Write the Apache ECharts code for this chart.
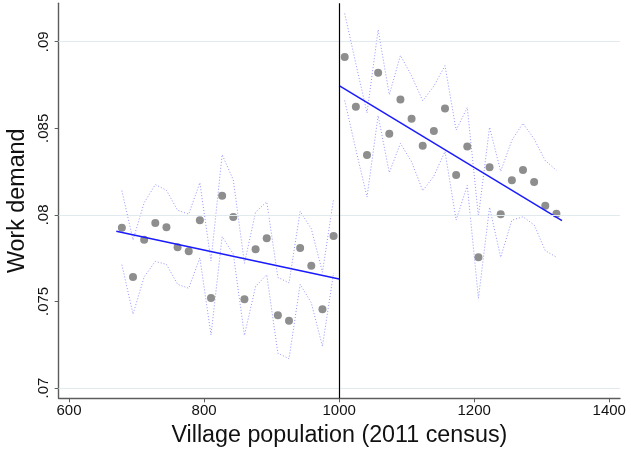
<!DOCTYPE html>
<html>
<head>
<meta charset="utf-8">
<script src="https://cdn.jsdelivr.net/npm/echarts@6/dist/echarts.min.js"></script>
<style>
  html, body { margin: 0; padding: 0; background: #fff; }
  #chart { width: 631px; height: 458px; }
</style>
</head>
<body>
<div id="chart"></div>
<script>
// Binned means of work demand around the 1000-population cutoff
const binXLeft = [678.25, 694.75, 711.25, 727.75, 744.25, 760.75, 777.25, 793.75, 810.25, 826.75,
                  843.25, 859.75, 876.25, 892.75, 909.25, 925.75, 942.25, 958.75, 975.25, 991.75];
const meanLeft = [0.07926, 0.07641, 0.07856, 0.07953, 0.07928, 0.07813, 0.07790, 0.07969, 0.07520, 0.08111,
                  0.07988, 0.07512, 0.07801, 0.07865, 0.07420, 0.07388, 0.07809, 0.07706, 0.07455, 0.07878];
const ciLoLeft = [0.07712, 0.07427, 0.07642, 0.07731, 0.07714, 0.07599, 0.07576, 0.07752, 0.07306, 0.07874,
                  0.07774, 0.07304, 0.07587, 0.07654, 0.07201, 0.07169, 0.07598, 0.07492, 0.07241, 0.07664];
const ciHiLeft = [0.08140, 0.07855, 0.08070, 0.08175, 0.08142, 0.08027, 0.08004, 0.08186, 0.07734, 0.08348,
                  0.08202, 0.07720, 0.08015, 0.08076, 0.07639, 0.07607, 0.08020, 0.07920, 0.07669, 0.08092];

const binXRight = [1008.25, 1024.75, 1041.25, 1057.75, 1074.25, 1090.75, 1107.25, 1123.75, 1140.25, 1156.75,
                   1173.25, 1189.75, 1206.25, 1222.75, 1239.25, 1255.75, 1272.25, 1288.75, 1305.25, 1321.75];
const meanRight = [0.08912, 0.08625, 0.08346, 0.08821, 0.08469, 0.08667, 0.08555, 0.08399, 0.08484, 0.08614,
                   0.08230, 0.08395, 0.07755, 0.08275, 0.08003, 0.08200, 0.08259, 0.08190, 0.08053, 0.08007];
const ciLoRight = [0.08661, 0.08377, 0.08103, 0.08573, 0.08244, 0.08413, 0.08307, 0.08139, 0.08224, 0.08366,
                   0.07970, 0.08170, 0.07518, 0.08044, 0.07755, 0.07969, 0.07989, 0.07942, 0.07793, 0.07756];
const ciHiRight = [0.09163, 0.08873, 0.08589, 0.09069, 0.08694, 0.08921, 0.08803, 0.08659, 0.08744, 0.08862,
                   0.08490, 0.08620, 0.07992, 0.08506, 0.08251, 0.08431, 0.08529, 0.08438, 0.08313, 0.08258];

// Linear fits on each side of the cutoff
const fitLeft = [[670, 0.07905], [1000, 0.07630]];
const fitRight = [[1000, 0.08746], [1330, 0.07967]];

const cutoff = 1000;
const xTicks = [600, 800, 1000, 1200, 1400];
const yTicks = [0.07, 0.075, 0.08, 0.085, 0.09];

const zip = (xs, ys) => xs.map((x, i) => [x, ys[i]]);

const FONT = '"Liberation Sans", Arial, sans-serif';
const ciStyle = { color: '#9494ff', width: 1, type: [1, 2] };

function ciSeries(xs, ys) {
  return {
    type: 'line', data: zip(xs, ys), showSymbol: false, silent: true,
    lineStyle: ciStyle, z: 2
  };
}

const option = {
  animation: false,
  backgroundColor: '#ffffff',
  grid: { left: 58.7, right: 11, top: 3.3, bottom: 59.7, containLabel: false, outerBoundsMode: 'none' },
  xAxis: {
    type: 'value', min: 584.7, max: 1415.9,
    name: 'Village population (2011 census)',
    nameLocation: 'middle', nameGap: 26,
    nameTextStyle: { fontFamily: FONT, fontSize: 23.3, color: '#111' },
    axisLine: { show: true, onZero: false, lineStyle: { color: '#5c5c5c', width: 1.4 } },
    axisTick: { show: true, length: 4, customValues: xTicks, lineStyle: { color: '#5c5c5c', width: 1 } },
    axisLabel: {
      customValues: xTicks, margin: 5, fontFamily: FONT, fontSize: 15, color: '#111',
      formatter: v => String(v)
    },
    splitLine: { show: false }
  },
  yAxis: {
    type: 'value', min: 0.069405, max: 0.09222,
    name: 'Work demand',
    nameLocation: 'middle', nameGap: 27,
    nameTextStyle: { fontFamily: FONT, fontSize: 23.3, color: '#111' },
    axisLine: { show: true, lineStyle: { color: '#5c5c5c', width: 1.4 } },
    axisTick: { show: true, length: 4, customValues: yTicks, lineStyle: { color: '#5c5c5c', width: 1 } },
    axisLabel: {
      customValues: yTicks, rotate: 90, margin: 7, fontFamily: FONT, fontSize: 15, color: '#111',
      formatter: v => String(v).replace(/^0\./, '.')
    },
    splitLine: { show: false }
  },
  series: [
    {
      // horizontal grid lines at the labelled ticks
      type: 'line', data: [], silent: true, z: 1,
      markLine: {
        silent: true, symbol: 'none', label: { show: false }, animation: false,
        lineStyle: { color: '#e1eaee', width: 1, type: 'solid' },
        data: yTicks.map(v => ({ yAxis: v }))
      }
    },
    ciSeries(binXLeft, ciHiLeft),
    ciSeries(binXLeft, ciLoLeft),
    ciSeries(binXRight, ciHiRight),
    ciSeries(binXRight, ciLoRight),
    {
      type: 'scatter', data: zip(binXLeft, meanLeft), symbolSize: 8, z: 3,
      itemStyle: { color: '#8e8e8e', opacity: 1 }
    },
    {
      type: 'scatter', data: zip(binXRight, meanRight), symbolSize: 8, z: 3,
      itemStyle: { color: '#8e8e8e', opacity: 1 }
    },
    {
      type: 'line', data: fitLeft, showSymbol: false, z: 4,
      lineStyle: { color: '#1a1aff', width: 1.5 }
    },
    {
      type: 'line', data: fitRight, showSymbol: false, z: 4,
      lineStyle: { color: '#1a1aff', width: 1.5 },
      markLine: {
        silent: true, symbol: 'none', label: { show: false }, animation: false,
        lineStyle: { color: '#000', width: 1.2, type: 'solid' },
        data: [{ xAxis: cutoff }]
      }
    }
  ]
};

const chart = echarts.init(document.getElementById('chart'), null, { renderer: 'canvas' });
chart.setOption(option);
</script>
</body>
</html>
